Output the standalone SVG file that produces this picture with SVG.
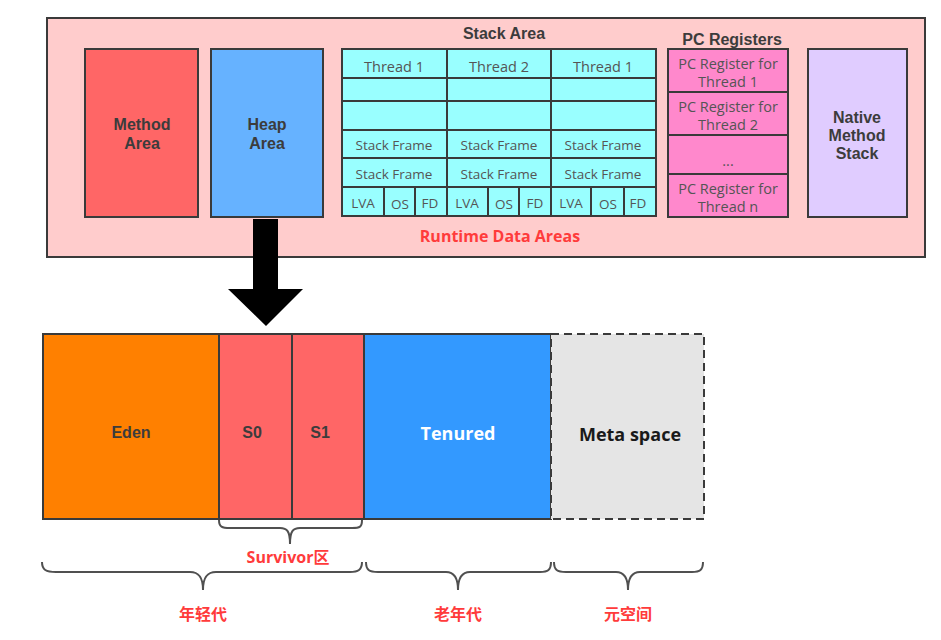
<svg xmlns="http://www.w3.org/2000/svg" width="941" height="640" viewBox="0 0 941 640">
<style>
.b{stroke:#3a3a3a;stroke-width:2}
.t{font-family:"Open Sans","Noto Sans CJK SC",sans-serif;text-anchor:middle;dominant-baseline:central}
.bold{font-family:"Liberation Sans","Noto Sans CJK SC",sans-serif;font-weight:bold;fill:#3c3c3c;font-size:16px}
.cell{fill:#555;font-size:14.5px}
.sm{fill:#555;font-size:13.5px}
.red{fill:#ff3b3b;font-weight:bold;font-size:16px}
.brace{fill:none;stroke:#505050;stroke-width:2}
</style>
<rect width="941" height="640" fill="#fff"/>
<g id="runtime">
<rect x="47" y="18" width="878" height="239" fill="#ffcccc" class="b"/>
<text class="t red" x="500" y="236">Runtime Data Areas</text>
</g>
<g id="method-area">
<rect x="85" y="49" width="113" height="168" fill="#ff6666" class="b"/>
<text class="t bold" x="142" y="124">Method</text>
<text class="t bold" x="142" y="143">Area</text>
</g>
<g id="heap-area">
<rect x="211" y="49" width="112" height="168" fill="#66b2ff" class="b"/>
<text class="t bold" x="267" y="124">Heap</text>
<text class="t bold" x="267" y="143">Area</text>
</g>
<g id="stack-area">
<text class="t bold" x="504" y="33" font-size="14">Stack Area</text>
<rect x="342" y="49" width="314" height="167" fill="#99ffff" class="b"/>
<path class="b" fill="none" d="M342 78H656M342 101H656M342 130H656M342 158H656M342 187H656M447 49V216M551 49V216M384 187V216M415 187V216M488 187V216M519 187V216M591 187V216M624 187V216"/>
<text class="t cell" x="394" y="66">Thread 1</text>
<text class="t cell" x="499" y="66">Thread 2</text>
<text class="t cell" x="603" y="66">Thread 1</text>
<text class="t sm" x="394" y="145">Stack Frame</text>
<text class="t sm" x="499" y="145">Stack Frame</text>
<text class="t sm" x="603" y="145">Stack Frame</text>
<text class="t sm" x="394" y="174">Stack Frame</text>
<text class="t sm" x="499" y="174">Stack Frame</text>
<text class="t sm" x="603" y="174">Stack Frame</text>
<text class="t sm" x="363" y="203">LVA</text>
<text class="t sm" x="400" y="204">OS</text>
<text class="t sm" x="430" y="203">FD</text>
<text class="t sm" x="467" y="203">LVA</text>
<text class="t sm" x="504" y="204">OS</text>
<text class="t sm" x="535" y="203">FD</text>
<text class="t sm" x="571" y="203">LVA</text>
<text class="t sm" x="608" y="204">OS</text>
<text class="t sm" x="638" y="203">FD</text>
</g>
<g id="pc-registers">
<text class="t bold" x="732" y="39" font-size="14">PC Registers</text>
<rect x="668" y="49" width="120" height="168" fill="#ff88cc" class="b"/>
<path class="b" fill="none" d="M668 92H788M668 135H788M668 174H788"/>
<text class="t cell" x="728" y="63">PC Register for</text>
<text class="t cell" x="728" y="81">Thread 1</text>
<text class="t cell" x="728" y="106">PC Register for</text>
<text class="t cell" x="728" y="124">Thread 2</text>
<text class="t cell" x="728" y="160">...</text>
<text class="t cell" x="728" y="188">PC Register for</text>
<text class="t cell" x="728" y="206">Thread n</text>
</g>
<g id="native-method-stack">
<rect x="808" y="49" width="99" height="168" fill="#e0ccff" class="b"/>
<text class="t bold" x="857" y="117" font-size="15">Native</text>
<text class="t bold" x="857" y="135" font-size="15">Method</text>
<text class="t bold" x="857" y="153" font-size="15">Stack</text>
</g>
<g id="arrow">
<polygon points="253,219 278,219 278,289 303,289 266,326 228,289 253,289" fill="#000"/>
</g>
<g id="eden">
<rect x="43" y="334" width="176" height="185" fill="#ff8000" class="b"/>
<text class="t bold" x="131" y="432">Eden</text>
</g>
<g id="s0">
<rect x="219" y="334" width="73" height="185" fill="#ff6666" class="b"/>
<text class="t bold" x="252" y="432">S0</text>
</g>
<g id="s1">
<rect x="292" y="334" width="72" height="185" fill="#ff6666" class="b"/>
<text class="t bold" x="320" y="432">S1</text>
</g>
<g id="tenured">
<rect x="364" y="334" width="187" height="185" fill="#3399ff" class="b"/>
<text class="t" x="458" y="433" font-size="18" font-weight="bold" fill="#fff">Tenured</text>
</g>
<g id="meta-space">
<rect x="551" y="334" width="153" height="185" fill="#e5e5e5" stroke="#3a3a3a" stroke-width="2" stroke-dasharray="8,5"/>
<text class="t" x="630" y="434" font-size="18" font-weight="bold" fill="#1a1a1a">Meta space</text>
</g>
<g id="braces">
<path class="brace" d="M219 520C219 527 222 528 230 528H280C287 528 290 531 290 544C290 531 293 528 300 528H352C360 528 362 527 362 520"/>
<path class="brace" d="M42 562C42 570 46 572 56 572H190C198 572 203 576 203 590C203 576 208 572 216 572H350C358 572 362 570 362 562"/>
<path class="brace" d="M366 562C366 570 369 572 378 572H446C453 572 458 576 458 590C458 576 463 572 470 572H540C548 572 551 570 551 562"/>
<path class="brace" d="M554 562C554 570 557 572 566 572H616C623 572 628 576 628 590C628 576 633 572 640 572H692C700 572 703 570 703 562"/>
</g>
<g id="labels">
<text class="t red" x="288" y="557">Survivor区</text>
<text class="t red" x="203" y="614">年轻代</text>
<text class="t red" x="458" y="614">老年代</text>
<text class="t red" x="628" y="614">元空间</text>
</g>
</svg>
